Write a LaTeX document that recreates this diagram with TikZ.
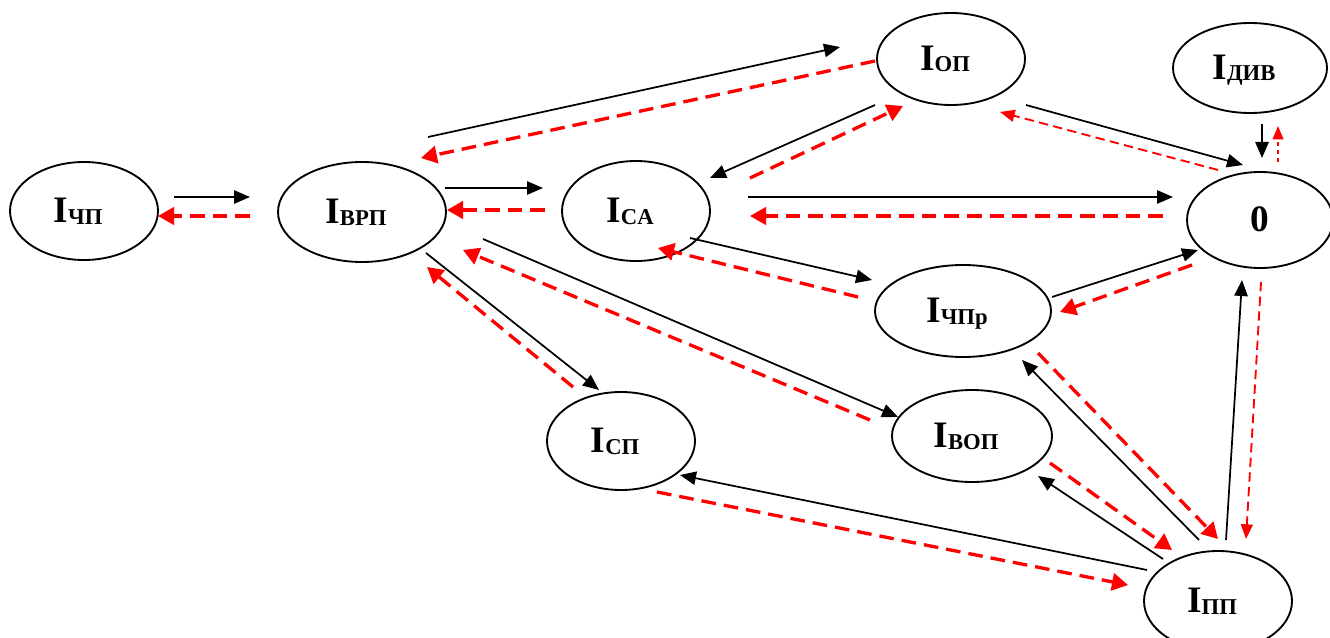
\documentclass[tikz,border=0pt]{standalone}
\usepackage{fontspec}
\setmainfont{Liberation Serif}
\usetikzlibrary{arrows.meta,shapes.geometric}
% state label: big bold I with a smaller bold index
\newcommand\lab[1]{\fontsize{28}{30}\selectfont\bfseries I\raisebox{-1pt}{\fontsize{17}{18}\selectfont #1}\hspace*{9pt}}
\begin{document}
\begin{tikzpicture}[x=0.75pt,y=-0.75pt,
  ell/.style={draw, ellipse, line width=1.4pt, inner sep=0pt, text height=18.5pt, text depth=1pt},
  blk/.style={line width=1.3pt, -{Triangle[length=12pt,width=10pt]}},
  rdk/.style={red, line width=2.5pt, dash pattern=on 11pt off 6pt, -{Triangle[length=12pt,width=13pt]}},
  rdt/.style={red, line width=1.4pt, dash pattern=on 7pt off 4pt, -{Triangle[length=11pt,width=9pt]}},
  rdd/.style={red, line width=1.4pt, dash pattern=on 3pt off 3pt, -{Triangle[length=10pt,width=8pt]}}]
\useasboundingbox (0,0) rectangle (1330,638);

% states
\node[ell, minimum width=111pt, minimum height=73.5pt] (chp)  at (84,211)   {\lab{ЧП}};
\node[ell, minimum width=126pt, minimum height=75pt]   (vrp)  at (362,212)  {\lab{ВРП}};
\node[ell, minimum width=111pt, minimum height=75pt]   (ca)   at (636,211)  {\lab{CA}};
\node[ell, minimum width=111pt, minimum height=69pt]   (op)   at (951,59)   {\lab{ОП}};
\node[ell, minimum width=115.5pt, minimum height=67.5pt] (div) at (1250,68) {\lab{ДИВ}};
\node[ell, minimum width=109.5pt, minimum height=72pt] (z)    at (1260,220) {\fontsize{28}{30}\selectfont\bfseries 0};
\node[ell, minimum width=132pt, minimum height=69pt]   (chpr) at (963,311)  {\lab{ЧПр}};
\node[ell, minimum width=120pt, minimum height=69pt]   (vop)  at (972,436)  {\lab{ВОП}};
\node[ell, minimum width=111pt, minimum height=75pt]   (pp)   at (1218,601) {\lab{ПП}};
\node[ell, minimum width=111pt, minimum height=73.5pt] (sp)   at (621,441)  {\lab{СП}};

% transitions (solid) and returns (dashed)
\draw[blk] ([shift={(90,-14)}]chp.center) -- ([shift={(-112,-15)}]vrp.center);
\draw[rdk] ([shift={(-112,4)}]vrp.center) -- ([shift={(74,5)}]chp.center);

\draw[blk] ([shift={(83,-24)}]vrp.center) -- ([shift={(-93,-23)}]ca.center);
\draw[rdk] ([shift={(-91,-1)}]ca.center) -- ([shift={(85,-2)}]vrp.center);

\draw[blk] ([shift={(66,-75)}]vrp.center) -- ([shift={(-111,-12)}]op.center);
\draw[rdk] ([shift={(-76,2)}]op.center) -- ([shift={(59,-54)}]vrp.center);

\draw[blk] ([shift={(-76,46)}]op.center) -- ([shift={(74,-33)}]ca.center);
\draw[rdk] ([shift={(114,-33)}]ca.center) -- ([shift={(-48,47)}]op.center);

\draw[blk] ([shift={(112,-14)}]ca.center) -- ([shift={(-87,-23)}]z.center);
\draw[rdk] ([shift={(-97,-4)}]z.center) -- ([shift={(114,5)}]ca.center);

\draw[blk] ([shift={(75,46)}]op.center) -- ([shift={(-17,-55)}]z.center);
\draw[rdt] ([shift={(-42,-50)}]z.center) -- ([shift={(49,53)}]op.center);

\draw[blk] ([shift={(12,56)}]div.center) -- ([shift={(2,-62)}]z.center);
\draw[rdd] ([shift={(18,-58)}]z.center) -- ([shift={(28,58)}]div.center);

\draw[blk] ([shift={(54,27)}]ca.center) -- ([shift={(-91,-31)}]chpr.center);
\draw[rdk] ([shift={(-105,-14)}]chpr.center) -- ([shift={(22,37)}]ca.center);

\draw[blk] ([shift={(89,-14)}]chpr.center) -- ([shift={(-62,30)}]z.center);
\draw[rdk] ([shift={(-68,45)}]z.center) -- ([shift={(97,1)}]chpr.center);

\draw[blk] ([shift={(64,41)}]vrp.center) -- ([shift={(-22,-51)}]sp.center);
\draw[rdk] ([shift={(-48,-54)}]sp.center) -- ([shift={(65,55)}]vrp.center);

\draw[blk] ([shift={(121,27)}]vrp.center) -- ([shift={(-74,-19)}]vop.center);
\draw[rdk] ([shift={(-102,-16)}]vop.center) -- ([shift={(101,38)}]vrp.center);

\draw[blk] ([shift={(-19,-61)}]pp.center) -- ([shift={(59,49)}]chpr.center);
\draw[rdk] ([shift={(75,42)}]chpr.center) -- ([shift={(0,-62)}]pp.center);

\draw[blk] ([shift={(8,-61)}]pp.center) -- ([shift={(-18,60)}]z.center);
\draw[rdt] ([shift={(1,62)}]z.center) -- ([shift={(28,-62)}]pp.center);

\draw[blk] ([shift={(-55,-42)}]pp.center) -- ([shift={(66,40)}]vop.center);
\draw[rdk] ([shift={(78,27)}]vop.center) -- ([shift={(-46,-51)}]pp.center);

\draw[blk] ([shift={(-71,-31)}]pp.center) -- ([shift={(59,34)}]sp.center);
\draw[rdk] ([shift={(36,51)}]sp.center) -- ([shift={(-90,-16)}]pp.center);
\end{tikzpicture}
\end{document}
